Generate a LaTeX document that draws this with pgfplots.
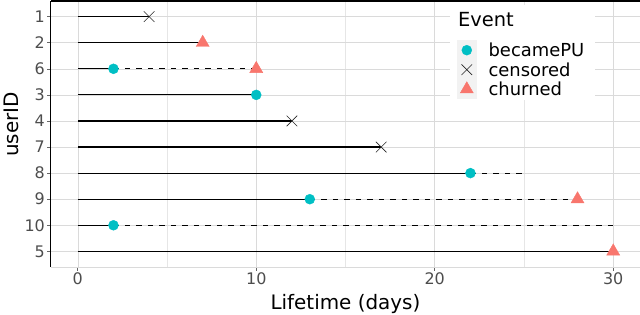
\documentclass[border=0pt]{standalone}
\usepackage{pgfplots}
\pgfplotsset{compat=1.18}
\usepackage{fontspec}
\setmainfont{DejaVu Sans}
\definecolor{pu}{HTML}{00BFC4}
\definecolor{churn}{HTML}{F8766D}
\definecolor{tickgray}{HTML}{4D4D4D}
\definecolor{gridgray}{HTML}{DADADA}
\definecolor{minorgray}{HTML}{E6E6E6}
\definecolor{keybg}{HTML}{F2F2F2}
\begin{document}
\begin{tikzpicture}
\begin{axis}[
  at={(0,0)}, anchor=south west,
  scale only axis, width=589bp, height=266bp,
  xmin=-1.5, xmax=31.5, ymin=0.4, ymax=10.6,
  clip=false,
  xtick={0,10,20,30}, minor xtick={5,15,25},
  ytick={1,2,3,4,5,6,7,8,9,10}, yticklabels={5,10,9,8,7,4,3,6,2,1},
  grid=both,
  major grid style={draw=gridgray, line width=0.5bp},
  minor grid style={draw=minorgray, line width=0.4bp},
  tick align=outside, tick pos=left,
  major tick length=3.5bp, minor tick length=0pt,
  tick style={draw=black!60, line width=0.6bp},
  axis line style={draw=none},
  /pgf/number format/assume math mode=true,
  tick label style={font=\fontsize{16}{16}\selectfont, text=tickgray},
  xticklabel style={anchor=north, inner sep=0pt, text height=11.7bp, text depth=0pt, yshift=-2.5bp},
  yticklabel style={anchor=east, inner sep=0pt, xshift=-2.5bp},
  xlabel={Lifetime (days)}, ylabel={userID},
  label style={font=\fontsize{20}{20}\selectfont},
  xlabel style={at={(axis description cs:0.5,-0.158)}, anchor=base},
  ylabel style={at={(axis description cs:-0.0679,0.5357)}, anchor=center},
  legend cell align=left,
  legend style={at={(rel axis cs:0.6893,0.8515)}, anchor=north west, draw=none, fill=none,
    inner sep=0pt, outer sep=0pt, row sep=0pt, column sep=12bp,
    font=\fontsize{18}{18}\selectfont,
    cells={anchor=west},
    nodes={inner sep=0pt, text height=13bp, text depth=0pt}},
  legend image code/.code={\fill[keybg] (0bp,-9.5bp) rectangle (19bp,9.5bp);
    \draw[mark repeat=2, mark phase=2, #1] plot coordinates {(0bp,0bp) (9.5bp,0bp) (19bp,0bp)};},
]
% legend background and title
\fill[white] (rel axis cs:0.6774,0.6278) rectangle (rel axis cs:0.9236,0.985);
\node[anchor=base west, inner sep=0pt, font=\fontsize{19.5}{19.5}\selectfont] at (rel axis cs:0.691,0.906) {Event};

% solid segments (before first event)
\addplot[forget plot, black, line width=1.1bp, unbounded coords=jump] table {
x y
0 10
4 10
nan nan
0 9
7 9
nan nan
0 8
2 8
nan nan
0 7
10 7
nan nan
0 6
12 6
nan nan
0 5
17 5
nan nan
0 4
22 4
nan nan
0 3
13 3
nan nan
0 2
2 2
nan nan
0 1
30 1
};
% dashed segments (after becoming PU)
\addplot[forget plot, black, line width=1.1bp, dash pattern=on 5.5bp off 6bp, unbounded coords=jump] table {
x y
2 8
10 8
nan nan
22 4
25 4
nan nan
13 3
28 3
nan nan
2 2
30 2
};

\addplot[only marks, mark=*, mark size=5bp, color=pu] table {
x y
2 8
10 7
22 4
13 3
2 2
};
\addlegendentry{becamePU}
\addplot[only marks, mark=x, mark size=7.5bp, color=black!85, line width=0.6bp] table {
x y
4 10
12 6
17 5
};
\addlegendentry{censored}
\addplot[only marks, mark=triangle*, mark size=7.5bp, color=churn] table {
x y
7 9
10 8
28 3
30 1
};
\addlegendentry{churned}

% axis lines
\draw[black, line width=1bp] (rel axis cs:0,0) -- (rel axis cs:0,1);
\draw[black, line width=1.3bp] (rel axis cs:0,1) -- (rel axis cs:1,1);
\draw[gridgray, line width=0.6bp] (rel axis cs:0,0) -- (rel axis cs:1,0);
\end{axis}
\pgfresetboundingbox
\path (-51bp,-48bp) rectangle (589bp,267bp);
\end{tikzpicture}
\end{document}
